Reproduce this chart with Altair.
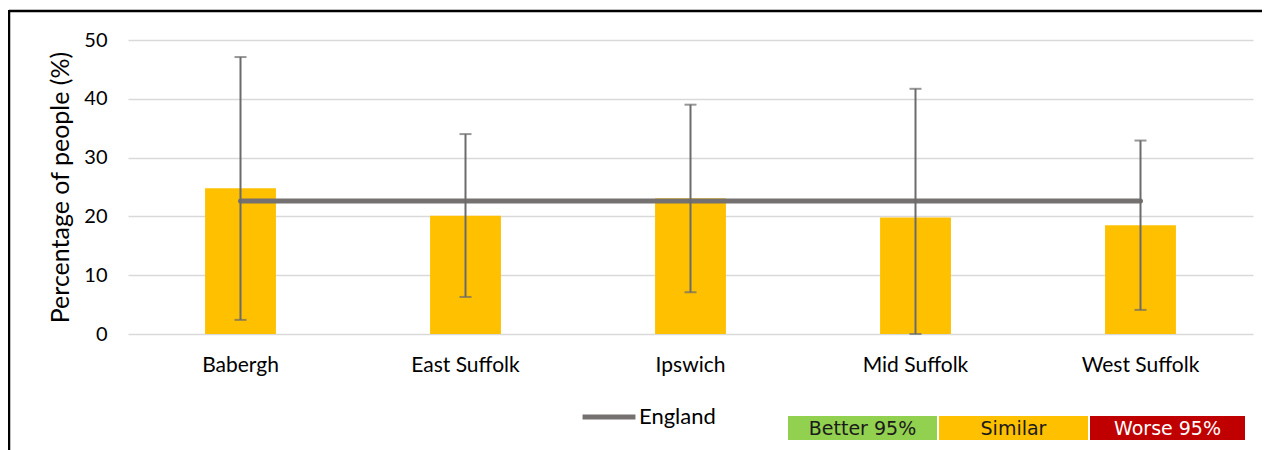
import altair as alt
import pandas as pd

areas = ["Babergh", "East Suffolk", "Ipswich", "Mid Suffolk", "West Suffolk"]
values = [24.8, 20.1, 23.1, 19.8, 18.5]
lower_ci = [2.4, 6.3, 7.1, 0.0, 4.1]
upper_ci = [47.1, 34.0, 39.0, 41.7, 32.9]
england_value = 22.6
significance = ["Similar", "Similar", "Similar", "Similar", "Similar"]

key_labels = ["Better 95%", "Similar", "Worse 95%"]
key_colors = ["#92D050", "#FFC000", "#C00000"]
key_text_colors = ["#1a1a1a", "#1a1a1a", "#FFFFFF"]

df = pd.DataFrame({
    "area": areas,
    "value": values,
    "lower": lower_ci,
    "upper": upper_ci,
    "england": [england_value] * len(areas),
    "series": ["England"] * len(areas),
    "sig": significance,
})

W, H = 1125, 294
FONT = "Lato"

xs = alt.X("area:N", sort=areas, title=None,
           scale=alt.Scale(paddingInner=0.685, paddingOuter=0.3425),
           axis=alt.Axis(labelAngle=0, labelFontSize=21, labelFont=FONT, labelColor="#000000",
                         labelPadding=20, domain=False, ticks=False))
yscale = alt.Scale(domain=[0, 50], nice=False)

base = alt.Chart(df)

bars = base.mark_bar(color="#FFC000").encode(
    x=xs,
    y=alt.Y("value:Q", scale=yscale, title="Percentage of people (%)",
            axis=alt.Axis(values=[0, 10, 20, 30, 40, 50], labelFontSize=20, labelFont=FONT,
                          labelColor="#000000", labelPadding=21, titleFontSize=25,
                          titleFont=FONT, titleFontWeight="normal", titleColor="#000000",
                          titlePadding=10, domain=False, ticks=False,
                          gridColor="#D9D9D9", gridWidth=1.5)),
)

eng = base.mark_line(strokeWidth=5, strokeCap="round").encode(
    x=alt.X("area:N", sort=areas),
    y=alt.Y("england:Q", scale=yscale),
    color=alt.Color("series:N", scale=alt.Scale(domain=["England"], range=["#767171"]),
                    legend=alt.Legend(orient="none", legendX=452, legendY=348, title=None,
                                      symbolType="stroke", symbolStrokeWidth=5,
                                      symbolSize=2800, labelFontSize=22, labelFont=FONT,
                                      labelColor="#000000", labelOffset=1)),
)

err = base.mark_rule(color="#6B6B6B", strokeWidth=2).encode(
    x=alt.X("area:N", sort=areas),
    y=alt.Y("lower:Q", scale=yscale),
    y2="upper:Q",
)
cap_lo = base.mark_tick(color="#6B6B6B", thickness=2, size=12, orient="horizontal").encode(
    x=alt.X("area:N", sort=areas),
    y=alt.Y("lower:Q", scale=yscale),
)
cap_hi = base.mark_tick(color="#6B6B6B", thickness=2, size=12, orient="horizontal").encode(
    x=alt.X("area:N", sort=areas),
    y=alt.Y("upper:Q", scale=yscale),
)

# key boxes (decoration)
key_layers = []
box_x = [660, 811, 962]
box_w = [149, 149, 155]
for lab, col, tcol, bx, bw in zip(key_labels, key_colors, key_text_colors, box_x, box_w):
    key_layers.append(
        alt.Chart(pd.DataFrame({"k": [lab]})).mark_rect(color=col).encode(
            x=alt.value(bx), x2=alt.value(bx + bw), y=alt.value(376), y2=alt.value(400))
    )
    key_layers.append(
        alt.Chart(pd.DataFrame({"k": [lab]})).mark_text(
            color=tcol, fontSize=19, font="DejaVu Sans", align="center", baseline="middle"
        ).encode(x=alt.value(bx + bw / 2), y=alt.value(389), text="k:N")
    )

frame_top = alt.Chart(pd.DataFrame({"k": [0]})).mark_rule(color="#000000", strokeWidth=2.5).encode(
    x=alt.value(-119), x2=alt.value(1145), y=alt.value(-29))
frame_left = alt.Chart(pd.DataFrame({"k": [0]})).mark_rule(color="#000000", strokeWidth=2.5).encode(
    x=alt.value(-119), y=alt.value(-30), y2=alt.value(420))

chart = alt.layer(bars, eng, err, cap_lo, cap_hi, *key_layers, frame_top, frame_left).properties(
    width=W, height=H,
    background="#FFFFFF",
    autosize=alt.AutoSizeParams(type="none"),
    padding={"left": 120, "top": 32, "right": 9, "bottom": 120},
).configure_view(stroke=None, strokeWidth=0)

chart.save("out.html", embed_options={"renderer": "svg", "actions": False})
